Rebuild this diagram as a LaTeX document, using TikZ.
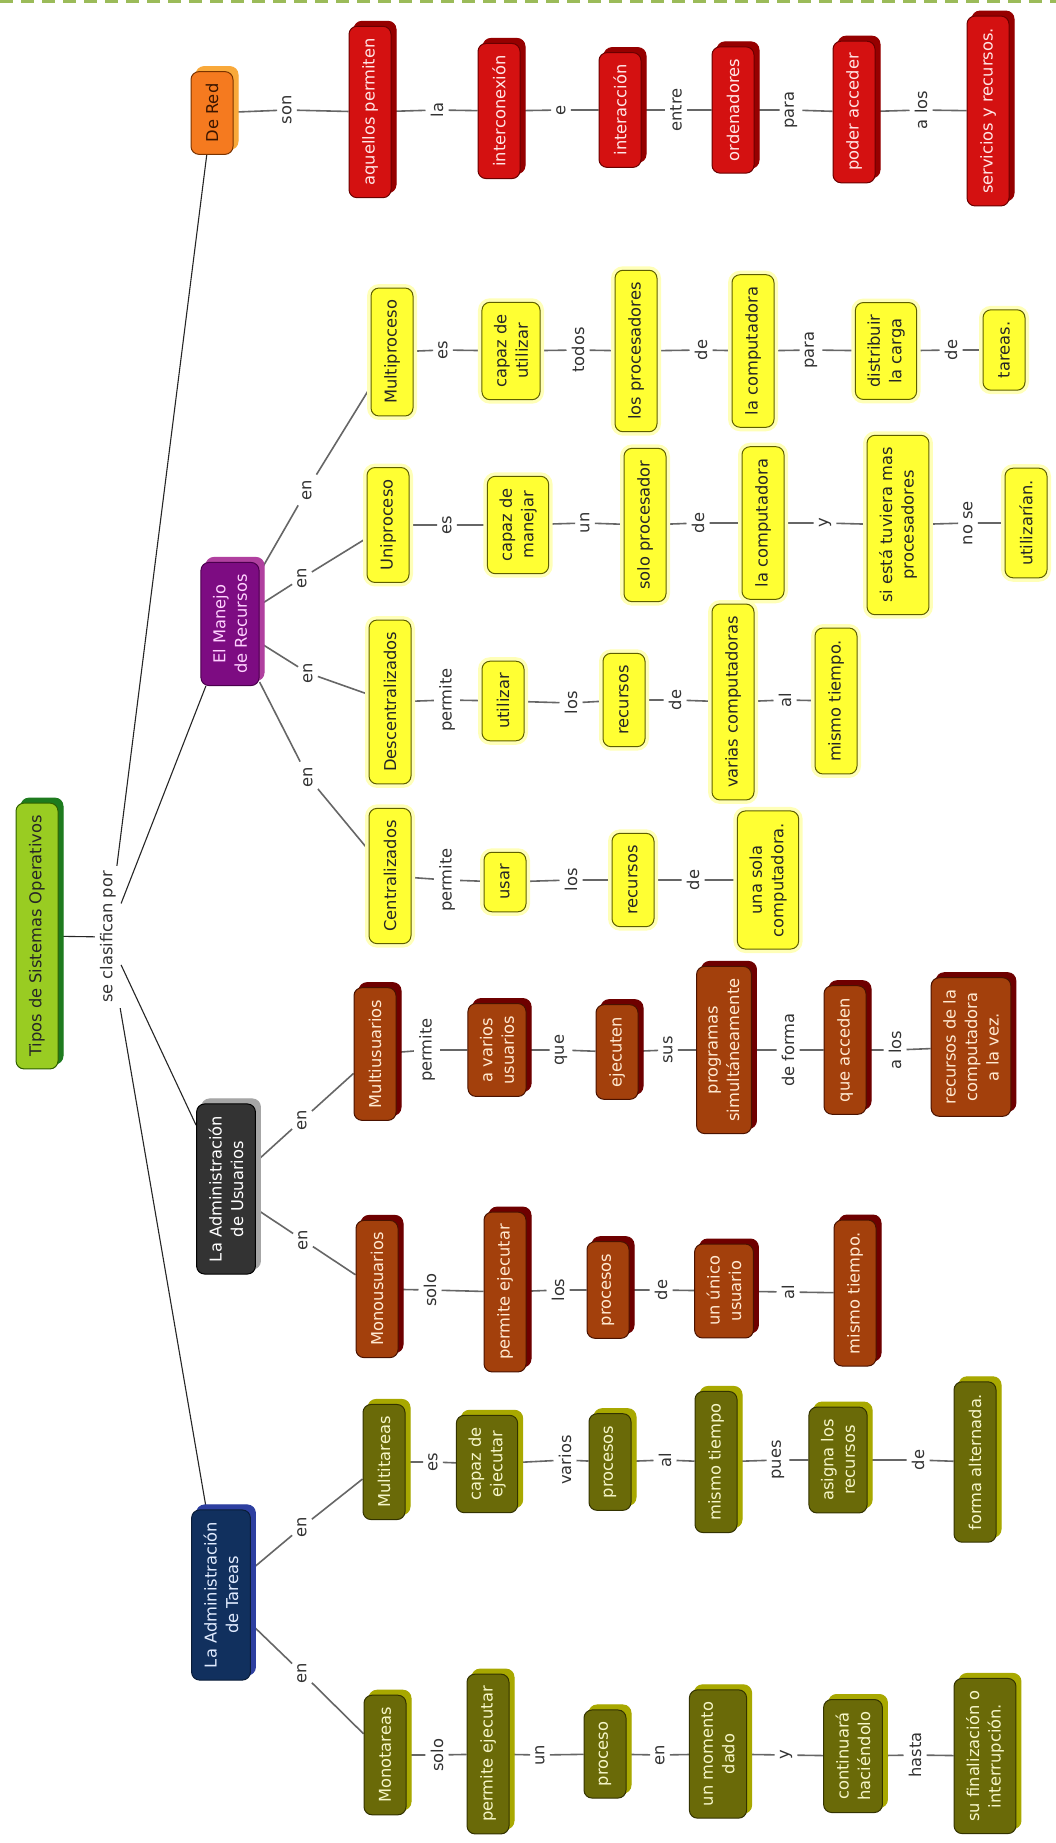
\documentclass[tikz,border=0pt]{standalone}
\usepackage{fontspec}
\setmainfont{DejaVu Sans}
\pgfdeclarelayer{background}
\pgfsetlayers{background,main}
\definecolor{cdash}{HTML}{9BBB59}
\definecolor{rootfill}{HTML}{99CC22}
\definecolor{rootsh}{HTML}{1E7B1E}
\definecolor{rootdr}{HTML}{2F5F00}
\definecolor{orfill}{HTML}{F57A1F}
\definecolor{orsh}{HTML}{F9A93A}
\definecolor{ordr}{HTML}{7A3300}
\definecolor{ortx}{HTML}{3A1500}
\definecolor{rdfill}{HTML}{D41111}
\definecolor{rdsh}{HTML}{960000}
\definecolor{rddr}{HTML}{6A0000}
\definecolor{rdtx}{HTML}{FFE6E6}
\definecolor{pufill}{HTML}{7D0C82}
\definecolor{push}{HTML}{B0409F}
\definecolor{pudr}{HTML}{4A004D}
\definecolor{putx}{HTML}{FFD2FF}
\definecolor{yefill}{HTML}{FFFF33}
\definecolor{yedr}{HTML}{5E5E00}
\definecolor{yeglow}{HTML}{FFFFB8}
\definecolor{gyfill}{HTML}{333333}
\definecolor{gysh}{HTML}{A6A6A6}
\definecolor{brfill}{HTML}{A3400C}
\definecolor{brsh}{HTML}{6E0000}
\definecolor{brdr}{HTML}{4A1200}
\definecolor{brtx}{HTML}{FFE9D0}
\definecolor{nvfill}{HTML}{11305E}
\definecolor{nvsh}{HTML}{2D3FA0}
\definecolor{nvtx}{HTML}{E2ECFF}
\definecolor{olfill}{HTML}{6A6A08}
\definecolor{olsh}{HTML}{A8A800}
\definecolor{oldr}{HTML}{333300}
\definecolor{oltx}{HTML}{F6F6C8}
\definecolor{labtx}{HTML}{333333}
\definecolor{linkc}{HTML}{666666}
\newcommand\mapfont{\fontsize{16.3}{21.5}\selectfont}
\tikzset{
  kbase/.style={rounded corners=8pt, inner xsep=12pt, inner ysep=12pt, minimum height=42pt, align=center, font=\mapfont, rotate=90, line width=1pt},
  kroot/.style={kbase, fill=rootfill, draw=rootdr, text=black!85},
  korange/.style={kbase, fill=orfill, draw=ordr, text=ortx},
  kred/.style={kbase, fill=rdfill, draw=rddr, text=rdtx},
  kpurple/.style={kbase, fill=pufill, draw=pudr, text=putx},
  kyellow/.style={kbase, fill=yefill, draw=yedr, text=black!85},
  kgray/.style={kbase, fill=gyfill, draw=black, text=white},
  kbrown/.style={kbase, fill=brfill, draw=brdr, text=brtx},
  knavy/.style={kbase, fill=nvfill, draw=nvfill!60!black, text=nvtx},
  kolive/.style={kbase, fill=olfill, draw=oldr, text=oltx},
  lab/.style={rotate=90, font=\mapfont, text=labtx, inner sep=5pt},
  link/.style={draw=linkc, line width=1.6pt},
  topl/.style={draw=black!85, line width=1.1pt}
}
% concept with offset shadow: style, shadow colour, name, x, y, text
\newcommand\cpt[6]{%
  \node[#1, fill=#2, draw=#2, text=#2] at (#4+5,#5-5) {#6};
  \node[#1] (#3) at (#4,#5) {#6};
}
% yellow concept with glow: name, x, y, text
\newcommand\ypt[4]{%
  \node[kyellow, fill=yeglow, draw=none, text=yeglow, inner xsep=16pt, inner ysep=16pt, minimum height=50pt, rounded corners=12pt] at (#2,#3) {#4};
  \node[kyellow] (#1) at (#2,#3) {#4};
}
\begin{document}
\begin{tikzpicture}[x=1pt,y=-1pt]
\useasboundingbox (0,0) rectangle (1056,1843);
\draw[cdash, line width=3pt, dash pattern=on 13pt off 8pt] (0,1.5) -- (1056,1.5);

% root
\cpt{kroot}{rootsh}{root}{37}{936}{Tipos de Sistemas Operativos}
\node[lab] (lclas) at (108,937) {se clasifican por};

% De Red
\cpt{korange}{orsh}{dered}{212}{113}{De Red}
\node[lab] (r1) at (287,110) {son};
\cpt{kred}{rdsh}{aquellos}{370}{112}{aquellos permiten}
\node[lab] (r2) at (437,110) {la};
\cpt{kred}{rdsh}{intercon}{499}{111}{interconexión}
\node[lab] (r3) at (561,110) {e};
\cpt{kred}{rdsh}{interac}{620}{110}{interacción}
\node[lab] (r4) at (676,110) {entre};
\cpt{kred}{rdsh}{ordena}{733}{110}{ordenadores}
\node[lab] (r5) at (791,110) {para};
\cpt{kred}{rdsh}{poder}{854}{112}{poder acceder}
\node[lab] (r6) at (921,110) {a los};
\cpt{kred}{rdsh}{servic}{988}{111}{servicios y recursos.}

% El Manejo de Recursos
\cpt{kpurple}{push}{manejo}{230}{624}{El Manejo\\de Recursos}
% Multiproceso
\node[lab] (m0) at (307,490) {en};
\ypt{multip}{392}{352}{Multiproceso}
\node[lab] (m1) at (443,350) {es};
\ypt{caputi}{511}{351}{capaz de\\utilizar}
\node[lab] (m2) at (578,350) {todos};
\ypt{losproc}{636}{351}{los procesadores}
\node[lab] (m3) at (701,350) {de};
\ypt{lacompm}{753}{351}{la computadora}
\node[lab] (m4) at (811,350) {para};
\ypt{distrib}{886}{351}{distribuir\\la carga}
\node[lab] (m5) at (951,350) {de};
\ypt{tareas}{1004}{350}{tareas.}
% Uniproceso
\node[lab] (u0) at (302,578) {en};
\ypt{unip}{388}{525}{Uniproceso}
\node[lab] (u1) at (447,525) {es};
\ypt{capman}{518}{525}{capaz de\\manejar}
\node[lab] (u2) at (585,523) {un};
\ypt{soloproc}{645}{525}{solo procesador}
\node[lab] (u3) at (698,523) {de};
\ypt{lacompu}{763}{523}{la computadora}
\node[lab] (u4) at (825,523) {y};
\ypt{siesta}{898}{525}{si está tuviera mas\\procesadores}
\node[lab] (u5) at (968,523) {no se};
\ypt{utiliz}{1026}{523}{utilizarían.}
% Descentralizados
\node[lab] (d0) at (308,673) {en};
\ypt{descent}{390}{702}{Descentralizados}
\node[lab] (d1) at (447,700) {permite};
\ypt{utilizar}{503}{701}{utilizar}
\node[lab] (d2) at (571,703) {los};
\ypt{recd}{624}{700}{recursos}
\node[lab] (d3) at (675,700) {de};
\ypt{varias}{733}{702}{varias computadoras}
\node[lab] (d4) at (785,700) {al};
\ypt{mismod}{836}{701}{mismo tiempo.}
% Centralizados
\node[lab] (c0) at (308,777) {en};
\ypt{central}{390}{876}{Centralizados}
\node[lab] (c1) at (447,880) {permite};
\ypt{usar}{505}{882}{usar}
\node[lab] (c2) at (571,880) {los};
\ypt{recc}{633}{880}{recursos}
\node[lab] (c3) at (693,880) {de};
\ypt{unasola}{768}{880}{una sola\\computadora.}

% La Administracion de Usuarios
\cpt{kgray}{gysh}{admu}{226}{1189}{La Administración\\de Usuarios}
\node[lab] (mu0) at (302,1120) {en};
\cpt{kbrown}{brsh}{multiu}{375}{1054}{Multiusuarios}
\node[lab] (mu1) at (427,1050) {permite};
\cpt{kbrown}{brsh}{varios}{497}{1050}{a varios\\usuarios}
\node[lab] (mu2) at (561,1050) {que};
\cpt{kbrown}{brsh}{ejecuten}{617}{1052}{ejecuten}
\node[lab] (mu3) at (668,1050) {sus};
\cpt{kbrown}{brsh}{programas}{724}{1050}{programas\\simultáneamente}
\node[lab] (mu4) at (788,1050) {de forma};
\cpt{kbrown}{brsh}{queacc}{845}{1050}{que acceden}
\node[lab] (mu5) at (895,1050) {a los};
\cpt{kbrown}{brsh}{recvez}{971}{1047}{recursos de la\\computadora\\a la vez.}
% Monousuarios
\node[lab] (mo0) at (303,1240) {en};
\cpt{kbrown}{brsh}{monou}{377}{1289}{Monousuarios}
\node[lab] (mo1) at (430,1290) {solo};
\cpt{kbrown}{brsh}{permeju}{505}{1292}{permite ejecutar}
\node[lab] (mo2) at (558,1290) {los};
\cpt{kbrown}{brsh}{procu}{608}{1290}{procesos}
\node[lab] (mo3) at (661,1290) {de};
\cpt{kbrown}{brsh}{unico}{724}{1291}{un único\\usuario}
\node[lab] (mo4) at (788,1292) {al};
\cpt{kbrown}{brsh}{mismou}{855}{1293}{mismo tiempo.}

% La Administracion de Tareas
\cpt{knavy}{nvsh}{admt}{221}{1595}{La Administración\\de Tareas}
\node[lab] (mt0) at (302,1527) {en};
\cpt{kolive}{olsh}{multit}{384}{1462}{Multitareas}
\node[lab] (mt1) at (433,1462) {es};
\cpt{kolive}{olsh}{capeje}{487}{1464}{capaz de\\ejecutar}
\node[lab] (mt2) at (565,1460) {varios};
\cpt{kolive}{olsh}{proct}{610}{1462}{procesos}
\node[lab] (mt3) at (665,1460) {al};
\cpt{kolive}{olsh}{mismot}{716}{1462}{mismo tiempo}
\node[lab] (mt4) at (778,1460) {pues};
\cpt{kolive}{olsh}{asigna}{838}{1460}{asigna los\\recursos}
\node[lab] (mt5) at (918,1460) {de};
\cpt{kolive}{olsh}{forma}{975}{1462}{forma alternada.}
% Monotareas
\node[lab] (mm0) at (302,1673) {en};
\cpt{kolive}{olsh}{monot}{385}{1755}{Monotareas}
\node[lab] (mm1) at (437,1755) {solo};
\cpt{kolive}{olsh}{permejt}{488}{1754}{permite ejecutar}
\node[lab] (mm2) at (540,1755) {un};
\cpt{kolive}{olsh}{proceso}{605}{1754}{proceso}
\node[lab] (mm3) at (660,1755) {en};
\cpt{kolive}{olsh}{momento}{718}{1754}{un momento\\dado}
\node[lab] (mm4) at (786,1755) {y};
\cpt{kolive}{olsh}{contin}{853}{1756}{continuará\\haciéndolo}
\node[lab] (mm5) at (915,1755) {hasta};
\cpt{kolive}{olsh}{sufin}{985}{1756}{su finalización o\\interrupción.}

\begin{pgfonlayer}{background}
\fill[white] (0,4) rectangle (1056,1843);
\draw[topl] (root) -- (lclas);
\draw[topl] (lclas) -- (dered);
\draw[topl] (lclas) -- (manejo);
\draw[topl] (lclas) -- (admu);
\draw[topl] (lclas) -- (admt);
\draw[link] (dered) -- (r1) -- (aquellos) -- (r2) -- (intercon) -- (r3) -- (interac) -- (r4) -- (ordena) -- (r5) -- (poder) -- (r6) -- (servic);
\draw[link] (manejo) -- (m0) -- (multip) -- (m1) -- (caputi) -- (m2) -- (losproc) -- (m3) -- (lacompm) -- (m4) -- (distrib) -- (m5) -- (tareas);
\draw[link] (manejo) -- (u0) -- (unip) -- (u1) -- (capman) -- (u2) -- (soloproc) -- (u3) -- (lacompu) -- (u4) -- (siesta) -- (u5) -- (utiliz);
\draw[link] (manejo) -- (d0) -- (descent) -- (d1) -- (utilizar) -- (d2) -- (recd) -- (d3) -- (varias) -- (d4) -- (mismod);
\draw[link] (manejo) -- (c0) -- (central) -- (c1) -- (usar) -- (c2) -- (recc) -- (c3) -- (unasola);
\draw[link] (admu) -- (mu0) -- (multiu) -- (mu1) -- (varios) -- (mu2) -- (ejecuten) -- (mu3) -- (programas) -- (mu4) -- (queacc) -- (mu5) -- (recvez);
\draw[link] (admu) -- (mo0) -- (monou) -- (mo1) -- (permeju) -- (mo2) -- (procu) -- (mo3) -- (unico) -- (mo4) -- (mismou);
\draw[link] (admt) -- (mt0) -- (multit) -- (mt1) -- (capeje) -- (mt2) -- (proct) -- (mt3) -- (mismot) -- (mt4) -- (asigna) -- (mt5) -- (forma);
\draw[link] (admt) -- (mm0) -- (monot) -- (mm1) -- (permejt) -- (mm2) -- (proceso) -- (mm3) -- (momento) -- (mm4) -- (contin) -- (mm5) -- (sufin);
\end{pgfonlayer}
\end{tikzpicture}
\end{document}
